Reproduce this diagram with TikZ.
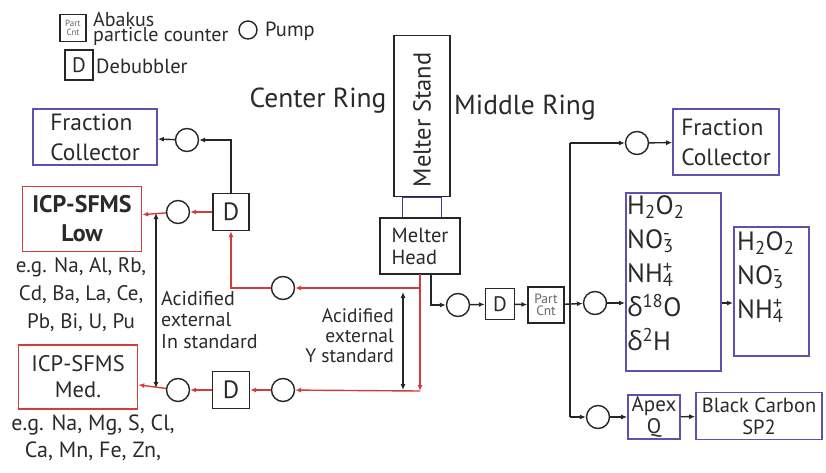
\documentclass[tikz,border=0pt]{standalone}
\usepackage{fontspec}
\setmainfont{PT Sans}
\newfontfamily\grk{Open Sans}
\usetikzlibrary{arrows.meta}
\definecolor{rd}{HTML}{D23C3C}
\definecolor{bl}{HTML}{5F52AE}
\definecolor{pu}{HTML}{4E2FA0}
\definecolor{tx}{HTML}{2A2A2A}
\newcommand\subsup[2]{\rlap{\textsubscript{#1}}\textsuperscript{#2}}
\tikzset{
  every node/.style={text=tx,inner sep=0pt},
  ln/.style={line width=1.4pt,draw=black!85},
  rl/.style={line width=1.4pt,draw=rd},
  arr/.style={-{Latex[length=6pt,width=5pt]}},
  darr/.style={{Latex[length=6pt,width=5pt]}-{Latex[length=6pt,width=5pt]}},
  pump/.style={circle,draw=black!85,line width=1.4pt,minimum size=23pt},
  dbox/.style={draw=black!85,line width=1.4pt,font=\fontsize{25}{25}\selectfont},
  bbox/.style={draw=bl,line width=1.6pt,align=left},
  rbox/.style={draw=rd,line width=1.6pt,align=center},
  kbox/.style={draw=black!85,line width=1.4pt,align=left},
  f20/.style={font=\fontsize{23.5}{30}\selectfont},
}
\begin{document}
\begin{tikzpicture}[x=1pt,y=-1pt]
\useasboundingbox (0,0) rectangle (826,473);
% legend
\node[kbox,minimum width=26pt,minimum height=27pt,align=center,font=\fontsize{9}{9}\selectfont,text=black!60] (lpc) at (73,28) {Part\\Cnt};
\node[anchor=west,align=left,font=\fontsize{20}{15}\selectfont] (lpct) at (93,29) {Abakus\\particle counter};
\node[pump,minimum size=18pt] (lp) at (248,30) {};
\node[anchor=west,font=\fontsize{20.5}{16}\selectfont] (lpt) at (265,31) {Pump};
\node[dbox,minimum width=28pt,minimum height=30pt,font=\fontsize{21}{21}\selectfont] (ld) at (79,65) {D};
\node[anchor=west,font=\fontsize{20.5}{16}\selectfont] (ldt) at (96,66) {Debubbler};
% ring labels
\node[font=\fontsize{27.5}{28}\selectfont] (cr) at (318,101) {Center Ring};
\node[font=\fontsize{27.5}{28}\selectfont] (mr) at (525,108) {Middle Ring};
% melter
\node[kbox,minimum width=56pt,minimum height=161pt] (ms) at (422,116) {};
\node[rotate=90,font=\fontsize{24.5}{25}\selectfont] (mst) at (422,120) {Melter Stand};
\node[draw=pu,line width=1.8pt,minimum width=39pt,minimum height=20pt] (mp) at (422,207.5) {};
\node[kbox,minimum width=80pt,minimum height=56pt,font=\fontsize{20.5}{22}\selectfont] (mh) at (420,246) {Melter\\Head};
% left side
\node[bbox,minimum width=124pt,minimum height=56pt,f20] (fcl) at (95,137) {Fraction\\Collector};
\node[pump] (pfc) at (187,140) {};
\node[dbox,minimum width=36pt,minimum height=37pt] (du) at (231,212) {D};
\node[pump] (pl) at (178,212) {};
\node[rbox,minimum width=119pt,minimum height=65pt,font=\fontsize{24}{29}\selectfont\bfseries] (icpl) at (82,219) {ICP-SFMS\\Low};
\node[align=center,font=\fontsize{21}{28}\selectfont] (icplt) at (81,295) {e.g. Na, Al, Rb,\\Cd, Ba, La, Ce,\\Pb, Bi, U, Pu};
\node[pump] (pr) at (283,288) {};
\node[rbox,minimum width=119pt,minimum height=64pt,font=\fontsize{22.5}{26}\selectfont] (icpm) at (78,377) {ICP-SFMS\\Med.};
\node[align=center,font=\fontsize{22}{27}\selectfont] (icpmt) at (93,438) {e.g. Na, Mg, S, Cl,\\Ca, Mn, Fe, Zn,};
\node[pump] (pm) at (178,390) {};
\node[dbox,minimum width=37pt,minimum height=37pt] (dl) at (231,390) {D};
\node[pump] (py) at (283,390) {};
\node[anchor=north west,align=left,font=\fontsize{20}{21.5}\selectfont] (ins) at (161,291) {Acidified\\external\\In standard};
\node[anchor=north east,align=right,font=\fontsize{19.5}{20}\selectfont] (yst) at (394,308) {Acidified\\external\\Y standard};
\coordinate (mhr) at (420,274);
\coordinate (rb) at (420,288);
\coordinate (rc) at (420,391);
\coordinate (is1) at (156,213);
\coordinate (is2) at (156,388);
\coordinate (ys1) at (403,292);
\coordinate (ys2) at (403,390);
% red connectors
\draw[rl,arr] (mhr) -- (rc);
\draw[rl,arr] (rb) -- (pr);
\draw[rl,arr] (pr) -| (du.south);
\draw[rl,arr] (du) -- (pl);
\draw[rl,arr] (pl) -- (icpl);
\draw[rl,arr] (rc) -- (py);
\draw[rl,arr] (py) -- (dl);
\draw[rl,arr] (dl) -- (pm);
\draw[rl,arr] (pm) -- (icpm);
\draw[ln,arr] (du.north) |- (pfc);
\draw[ln,arr] (pfc) -- (fcl);
\draw[ln,darr,line width=1.1pt] (is1) -- (is2);
\draw[ln,darr,line width=1.1pt] (ys1) -- (ys2);
% right side
\coordinate (mhb) at (431,274);
\node[pump] (pa) at (458,305) {};
\node[dbox,minimum width=29pt,minimum height=31pt,font=\fontsize{21}{21}\selectfont] (dr) at (500,304) {D};
\node[kbox,minimum width=36pt,minimum height=36pt,align=center,font=\fontsize{13.5}{12}\selectfont,text=black!60] (pc) at (546,305) {Part\\Cnt};
\coordinate (vt) at (570,143);
\coordinate (vb) at (570,417);
\node[pump] (pf) at (637,143) {};
\node[bbox,minimum width=106pt,minimum height=66pt,f20] (fcr) at (726,142) {Fraction\\Collector};
\node[pump] (pb) at (595,303) {};
\node[bbox,minimum width=95pt,minimum height=178pt,anchor=north west] (ch) at (625,192) {};
\node[anchor=north west,align=left,font=\fontsize{26.5}{34}\selectfont] (cht) at (627,195) {H\textsubscript{2}O\textsubscript{2}\\NO\subsup{3}{-}\\NH\subsup{4}{+}\\{\grk δ}\textsuperscript{18}O\\{\grk δ}\textsuperscript{2}H};
\node[bbox,minimum width=75pt,minimum height=129pt,anchor=north west] (ch2) at (733,226) {};
\node[anchor=north west,align=left,font=\fontsize{26.5}{34}\selectfont] (ch2t) at (737,231) {H\textsubscript{2}O\textsubscript{2}\\NO\subsup{3}{-}\\NH\subsup{4}{+}};
\node[pump] (pg) at (598,417) {};
\node[bbox,minimum width=52pt,minimum height=44pt,align=center,font=\fontsize{21}{22}\selectfont] (apex) at (654,417) {Apex\\Q};
\node[bbox,minimum width=126pt,minimum height=47pt,align=center,font=\fontsize{20.5}{22}\selectfont] (bc) at (759,416) {Black Carbon\\SP2};
\draw[ln,arr] (mhb) |- (pa);
\draw[ln,arr] (pa) -- (dr);
\draw[ln,arr] (dr) -- (pc);
\draw[ln,arr] (pc) -- (pb);
\draw[ln] (vt) -- (vb);
\draw[ln,arr] (vt) -- (pf);
\draw[ln,arr] (pf) -- (fcr);
\draw[ln,arr] (pb) -- (ch.west |- pb);
\draw[ln,arr] (ch.east |- pb) -- (ch2.west |- pb);
\draw[ln,arr] (vb) -- (pg);
\draw[ln,arr] (pg) -- (apex);
\draw[ln,arr] (apex) -- (bc);
\end{tikzpicture}
\end{document}
